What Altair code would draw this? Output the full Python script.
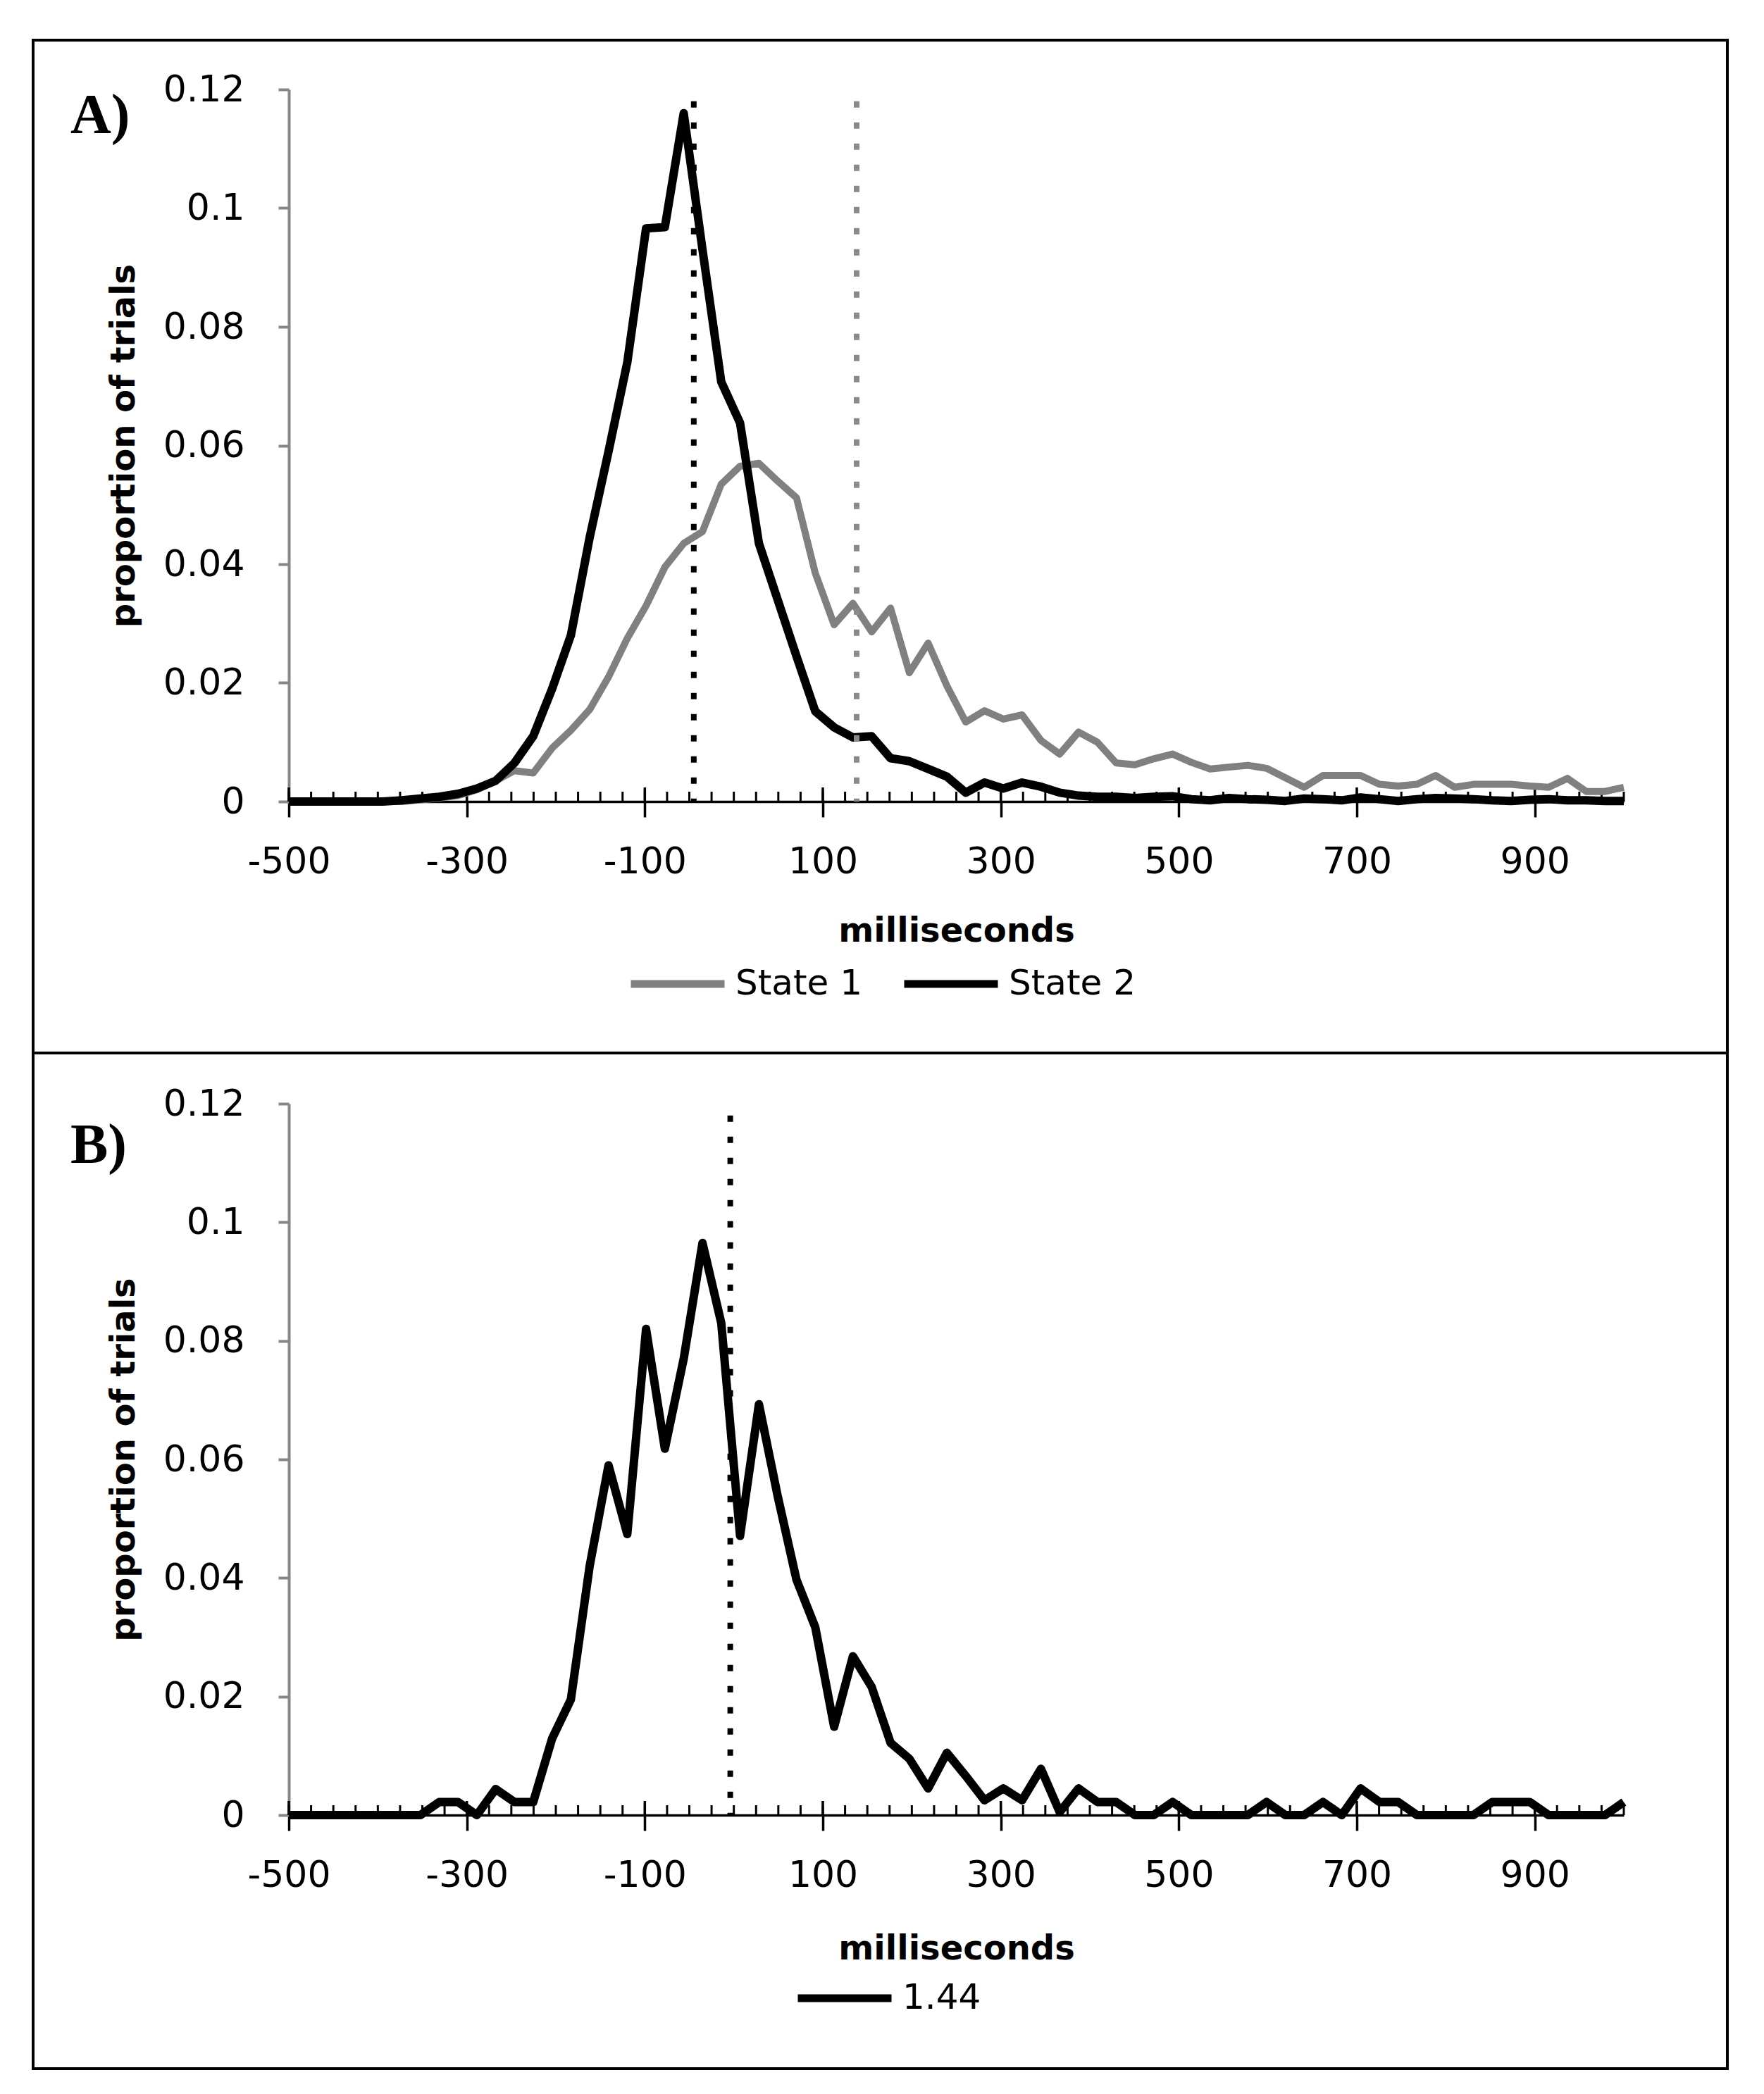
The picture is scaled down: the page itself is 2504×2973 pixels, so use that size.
import altair as alt
import pandas as pd

# ---------------- data ----------------
X_MS = [-500.0, -478.9, -457.7, -436.6, -415.5, -394.4, -373.2, -352.1, -331.0, -309.9,
        -288.7, -267.6, -246.5, -225.4, -204.2, -183.1, -162.0, -140.8, -119.7, -98.6,
        -77.5, -56.3, -35.2, -14.1, 7.0, 28.2, 49.3, 70.4, 91.5, 112.7,
        133.8, 154.9, 176.1, 197.2, 218.3, 239.4, 260.6, 281.7, 302.8, 323.9,
        345.1, 366.2, 387.3, 408.5, 429.6, 450.7, 471.8, 493.0, 514.1, 535.2,
        556.3, 577.5, 598.6, 619.7, 640.8, 662.0, 683.1, 704.2, 725.4, 746.5,
        767.6, 788.7, 809.9, 831.0, 852.1, 873.2, 894.4, 915.5, 936.6, 957.7,
        978.9, 1000.0]

STATE1 = [0, 0, 0, 0, 0, 0, 0, 0.0003, 0.0006, 0.001,
          0.002, 0.0035, 0.0052, 0.0048, 0.009, 0.012, 0.0155, 0.021, 0.0275, 0.033,
          0.0395, 0.0435, 0.0455, 0.0535, 0.0565, 0.057, 0.054, 0.0512, 0.0385, 0.0298,
          0.0334, 0.0286, 0.0326, 0.0217, 0.0267, 0.0195, 0.0134, 0.0153, 0.0139, 0.0146,
          0.0103, 0.008, 0.0117, 0.0100, 0.0065, 0.0062, 0.0072, 0.008, 0.0066, 0.0055,
          0.0058, 0.0061, 0.0056, 0.004, 0.0024, 0.0044, 0.0044, 0.0044, 0.0029, 0.0026,
          0.0029, 0.0044, 0.0024, 0.0029, 0.0029, 0.0029, 0.0026, 0.0024, 0.0039, 0.0017,
          0.0017, 0.0024]

STATE2 = [0, 0, 0, 0, 0, 0, 0.0002, 0.0005, 0.0008, 0.0013,
          0.0022, 0.0035, 0.0065, 0.011, 0.019, 0.028, 0.0445, 0.059, 0.074, 0.0966,
          0.0968, 0.116, 0.093, 0.0707, 0.0638, 0.0435, 0.034, 0.0245, 0.0152, 0.0125,
          0.0108, 0.011, 0.0073, 0.0068, 0.0055, 0.0042, 0.0015, 0.0032, 0.0022, 0.0032,
          0.0025, 0.0015, 0.001, 0.0008, 0.0008, 0.0006, 0.0008, 0.0009, 0.0004, 0.0002,
          0.0006, 0.0004, 0.0003, 0.0001, 0.0005, 0.0004, 0.0002, 0.0007, 0.0004, 0.0001,
          0.0004, 0.0006, 0.0005, 0.0004, 0.0002, 0.0001, 0.0003, 0.0004, 0.0002, 0.0002,
          0.0001, 0.0001]

B_144 = [0, 0, 0, 0, 0, 0, 0, 0, 0.0022, 0.0022,
         0, 0.0044, 0.0022, 0.0022, 0.0129, 0.0195, 0.042, 0.059, 0.0474, 0.082,
         0.0618, 0.077, 0.0965, 0.083, 0.0471, 0.0693, 0.0538, 0.0397, 0.0317, 0.0149,
         0.0268, 0.0216, 0.0122, 0.0095, 0.0045, 0.0105, 0.0066, 0.0025, 0.0045, 0.0025,
         0.0078, 0.0005, 0.0045, 0.0022, 0.0022, 0, 0, 0.0022, 0, 0,
         0, 0, 0.0022, 0, 0, 0.0022, 0, 0.0045, 0.0022, 0.0022,
         0, 0, 0, 0, 0.0022, 0.0022, 0.0022, 0, 0, 0,
         0, 0.0022]

SERIES_A = ["State 1", "State 2"]
COLORS_A = ["#808080", "#000000"]
WIDTHS_A = [10, 12]
MEANS_A = [138, -45]            # dotted lines (State 1 grey, State 2 black)
MEAN_COLORS_A = ["#8a8a8a", "#000000"]
SERIES_B = ["1.44"]
MEANS_B = [-4]
DOT_TOP = 0.118

X_LABELS = [-500, -300, -100, 100, 300, 500, 700, 900]
MINOR_TICKS = list(range(-500, 1001, 25))
Y_TICKS = [0, 0.02, 0.04, 0.06, 0.08, 0.1, 0.12]

# ---------------- layout constants ----------------
W = 1895
HA = 1011
HB = 1010
FONT = "DejaVu Sans"
TICK_FS = 52
TITLE_FS = 48

xscale = alt.Scale(domain=[-500, 1000], nice=False, zero=False)
yscale = alt.Scale(domain=[0, 0.12], nice=False)


def x_axis(title_y):
    return alt.Axis(values=X_LABELS, title="milliseconds", grid=False,
                    labelExpr="'' + datum.value",
                    labelFont=FONT, labelFontSize=TICK_FS, labelColor="black",
                    labelFlush=False, labelOverlap=False, labelPadding=38,
                    tickColor="black", tickSize=22, tickWidth=3.5,
                    domainColor="black", domainWidth=3.5,
                    titleFont=FONT, titleFontSize=TITLE_FS, titleFontWeight="bold",
                    titleColor="black", titleY=title_y, titleBaseline="middle")


def y_axis(h):
    return alt.Axis(values=Y_TICKS, format=".2~f", title="proportion of trials", grid=False,
                    labelFont=FONT, labelFontSize=TICK_FS, labelColor="black",
                    labelPadding=48, labelFlush=False,
                    tickColor="#868686", tickSize=15, tickWidth=4,
                    domainColor="#868686", domainWidth=4,
                    titleFont=FONT, titleFontSize=TITLE_FS, titleFontWeight="bold",
                    titleColor="black", titleX=-234, titleY=h / 2, titleAngle=-90,
                    titleBaseline="middle", titleAlign="center")


def legend(lx, ly):
    return alt.Legend(orient="none", legendX=lx, legendY=ly,
                      direction="horizontal", title=None,
                      symbolType="stroke", symbolSize=17689,
                      symbolStrokeWidth=11, labelFont=FONT,
                      labelFontSize=50, labelColor="black",
                      labelLimit=0, labelOffset=10, columnPadding=36,
                      padding=0)


def decorations(h, letter, letter_y, frame_top, frame_bottom, xa):
    minor_df = pd.DataFrame({"ms": MINOR_TICKS})
    minor = alt.Chart(minor_df).mark_rule(color="black", strokeWidth=3).encode(
        x=alt.X("ms:Q", scale=xscale, axis=xa),
        y=alt.value(h - 14), y2=alt.value(h),
    )
    major_df = pd.DataFrame({"ms": X_LABELS})
    major = alt.Chart(major_df).mark_rule(color="black", strokeWidth=3.5).encode(
        x=alt.X("ms:Q", scale=xscale, axis=xa),
        y=alt.value(h - 20), y2=alt.value(h),
    )
    one = pd.DataFrame({"k": [0]})
    frame = alt.Chart(one).mark_rect(fillOpacity=0, stroke="black", strokeWidth=4).encode(
        x=alt.value(-363), x2=alt.value(2042), y=alt.value(frame_top), y2=alt.value(frame_bottom),
    )
    label = alt.Chart(one).mark_text(font="Liberation Serif", fontWeight="bold", fontSize=80,
                                     align="left", baseline="alphabetic", color="black").encode(
        x=alt.value(-310), y=alt.value(letter_y), text=alt.value(letter),
    )
    return frame, minor, major, label


def dotted_layer(means, mean_colors, xa, ya):
    mean_df = pd.DataFrame({"ms": means, "value": [DOT_TOP] * len(means),
                            "value2": [0] * len(means), "col": mean_colors})
    return alt.Chart(mean_df).mark_rule(strokeWidth=8, strokeDash=[9, 21],
                                        strokeCap="butt").encode(
        x=alt.X("ms:Q", scale=xscale, axis=xa),
        y=alt.Y("value:Q", scale=yscale, axis=ya),
        y2="value2:Q",
        color=alt.Color("col:N", scale=None),
    )


def frame_of(values, name, order_idx):
    return pd.DataFrame({"ms": X_MS, "value": values, "series": name, "idx": order_idx})


# ---------------- panel A ----------------
xa_a = x_axis(184)
ya_a = y_axis(HA)
dfa = pd.concat([frame_of(STATE1, SERIES_A[0], 0), frame_of(STATE2, SERIES_A[1], 1)],
                ignore_index=True)
lines_a = alt.Chart(dfa).mark_line(strokeJoin="round").encode(
    x=alt.X("ms:Q", scale=xscale, axis=xa_a),
    y=alt.Y("value:Q", scale=yscale, axis=ya_a),
    color=alt.Color("series:N", scale=alt.Scale(domain=SERIES_A, range=COLORS_A),
                    legend=legend(480, 1198)),
    strokeWidth=alt.StrokeWidth("series:N", scale=alt.Scale(domain=SERIES_A, range=WIDTHS_A),
                                legend=None),
    order=alt.Order("idx:Q"),
)
fa, mia, maa, la = decorations(HA, "A)", 62, -70, 1368, xa_a)
panel_a = alt.layer(fa, mia, maa, lines_a, dotted_layer(MEANS_A, MEAN_COLORS_A, xa_a, ya_a),
                    la).properties(width=W, height=HA)

# ---------------- panel B ----------------
xa_b = x_axis(190)
ya_b = y_axis(HB)
dfb = frame_of(B_144, SERIES_B[0], 0)
lines_b = alt.Chart(dfb).mark_line(strokeJoin="round", strokeWidth=12).encode(
    x=alt.X("ms:Q", scale=xscale, axis=xa_b),
    y=alt.Y("value:Q", scale=yscale, axis=ya_b),
    color=alt.Color("series:N", scale=alt.Scale(domain=SERIES_B, range=["#000000"]),
                    legend=legend(717, 1198)),
)
fb, mib, mab, lb = decorations(HB, "B)", 84, -72, 1370, xa_b)
panel_b = alt.layer(fb, mib, mab, lines_b, dotted_layer(MEANS_B, ["#000000"], xa_b, ya_b),
                    lb).properties(width=W, height=HB)

chart = alt.vconcat(panel_a, panel_b, spacing=-4).resolve_scale(
    x="independent", y="independent", color="independent"
).properties(
    padding={"left": 37, "top": 47, "right": 0, "bottom": 0},
    background="white",
).configure_view(stroke=None)

chart.save("out.html", embed_options={"renderer": "svg", "actions": False})
